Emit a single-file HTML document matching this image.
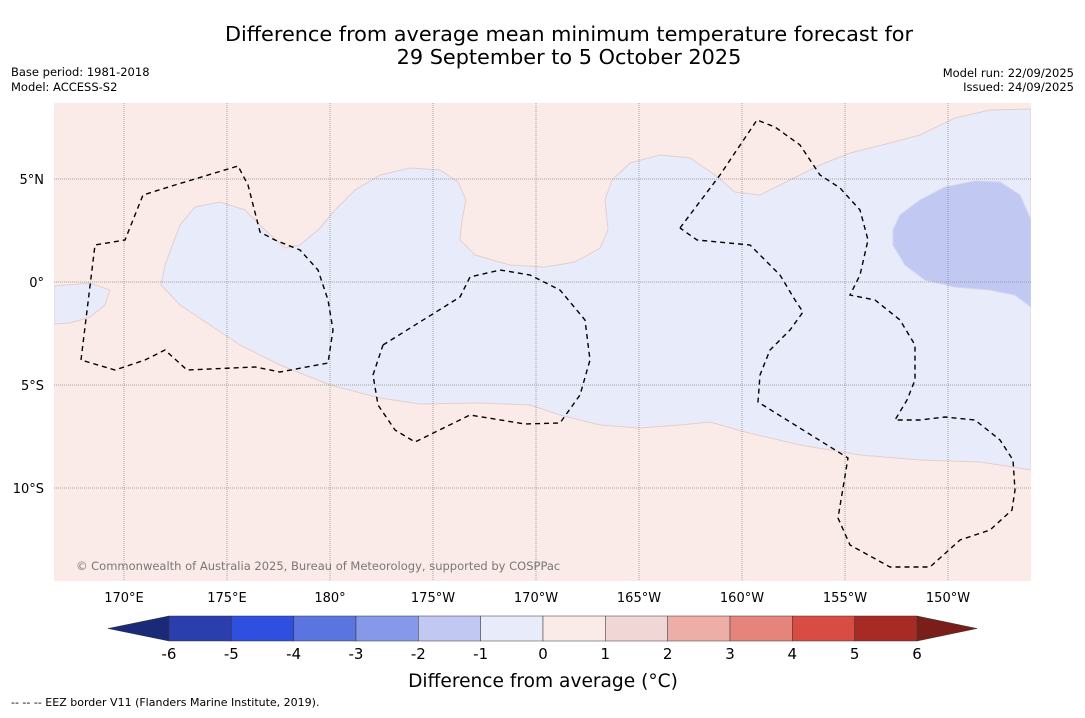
<!DOCTYPE html>
<html><head><meta charset="utf-8"><style>
body{margin:0;background:#fff;width:1085px;height:713px;overflow:hidden;font-family:"Liberation Sans","DejaVu Sans",sans-serif}
svg text{font-family:"DejaVu Sans","Liberation Sans",sans-serif}
</style></head><body>
<svg id="chart" width="1085" height="713" xmlns="http://www.w3.org/2000/svg">
<text x="569" y="41" text-anchor="middle" font-size="20.8">Difference from average mean minimum temperature forecast for</text>
<text x="569" y="64" text-anchor="middle" font-size="20.8">29 September to 5 October 2025</text>
<text x="11" y="76" font-size="11.5">Base period: 1981-2018</text>
<text x="11" y="91" font-size="11.5">Model: ACCESS-S2</text>
<text x="1074" y="77" font-size="11.5" text-anchor="end">Model run: 22/09/2025</text>
<text x="1074" y="91" font-size="11.5" text-anchor="end">Issued: 24/09/2025</text>
<defs><clipPath id="mapclip"><rect x="54" y="103" width="977" height="478"/></clipPath></defs>
<rect x="54" y="103" width="977" height="478" fill="#fbebe8"/>
<g id="map" clip-path="url(#mapclip)"></g>
<g id="axes"></g>
<g id="cbar"></g>
<text x="543" y="687" text-anchor="middle" font-size="18.6">Difference from average (°C)</text>
<text x="11" y="706" font-size="11">--  --  -- EEZ border V11 (Flanders Marine Institute, 2019).</text>
</svg>
<script>
const lonTicks=["170°E","175°E","180°","175°W","170°W","165°W","160°W","155°W","150°W"];
const lonValues=[170,175,180,185,190,195,200,205,210];
const latTicks=["5°N","0°","5°S","10°S"];
const latValues=[5,0,-5,-10];
const cbLevels=[-6,-5,-4,-3,-2,-1,0,1,2,3,4,5,6];
const cbColors=["#2a3eae","#2e4fdf","#5a74e0","#8598ea","#c1c8f2","#e8ebfa","#fbebe8","#f0d6d4","#eeaea8","#e6837b","#d94c43","#a82a24"];
const cbUnder="#1b2a78", cbOver="#7a1e1a";
// contour outlines (pixel space of map panel)
const lightBlueArea=[[161,285],[165,265],[180,225],[195,207],[220,202],[245,210],[265,230],[285,248],[300,245],[320,228],[335,210],[355,190],[380,175],[410,168],[440,170],[458,182],[466,200],[462,220],[460,240],[475,255],[510,265],[545,267],[575,262],[600,248],[608,230],[605,200],[612,180],[630,163],[660,155],[690,158],[715,175],[735,192],[760,195],[790,180],[820,165],[850,153],[890,143],[920,135],[955,118],[990,110],[1031,109],[1031,470],[980,462],[920,460],[860,455],[800,445],[745,432],[710,422],[680,425],[640,428],[600,425],[560,415],[530,405],[480,403],[420,404],[380,398],[330,385],[280,365],[240,345],[210,325],[180,305]];
const lightBlueBlob=[[54,286],[90,283],[110,290],[105,305],[90,317],[70,323],[54,324]];
const darkBlueArea=[[893,230],[900,215],[920,200],[945,187],[975,181],[1000,182],[1020,195],[1031,220],[1031,307],[1015,295],[990,290],[955,287],[925,280],[905,265],[893,245]];
const eezLines=[
[[81,360],[95,245],[125,240],[143,195],[175,185],[238,166],[248,185],[260,232],[275,240],[300,250],[318,270],[328,300],[333,330],[328,363],[280,372],[255,367],[187,370],[165,350],[145,360],[115,370],[81,360]],
[[383,345],[460,297],[470,277],[500,270],[530,275],[560,290],[585,320],[590,360],[580,395],[560,423],[525,424],[470,415],[415,442],[395,430],[378,405],[373,375],[383,345]],
[[680,228],[720,175],[757,120],[775,127],[800,145],[820,175],[840,188],[860,210],[868,240],[860,275],[850,295],[875,300],[900,320],[915,345],[915,380],[907,400],[895,420],[920,420],[945,417],[975,420],[1000,440],[1013,460],[1015,490],[1012,510],[990,530],[960,540],[930,567],[890,567],[850,545],[838,518],[848,458],[758,402],[760,375],[770,350],[790,330],[803,312],[795,300],[780,275],[750,245],[697,240],[680,228]]
];
const NS="http://www.w3.org/2000/svg";
const xLon=l=>124+(l-170)*20.6;
const yLat=l=>282-l*20.6;
const map=document.getElementById('map'),axes=document.getElementById('axes'),cb=document.getElementById('cbar');
function mk(t,a,p){const e=document.createElementNS(NS,t);for(const k in a)e.setAttribute(k,a[k]);p.appendChild(e);return e;}
const pts=a=>a.map(p=>p.join(',')).join(' ');
let e;
e=mk('polygon',{points:pts(lightBlueArea),fill:'#e8ebfa',stroke:'#e3cfcf','stroke-width':1},map);


e=mk('polygon',{points:pts(lightBlueBlob),fill:'#e8ebfa',stroke:'#e3cfcf','stroke-width':1},map);


e=mk('polygon',{points:pts(darkBlueArea),fill:'#c1c8f2',stroke:'#d0d4f2','stroke-width':1},map);


lonValues.forEach((v,i)=>{const x=xLon(v);
 e=mk('line',{x1:x,x2:x,y1:103,y2:581,stroke:'#888','stroke-width':0.7,'stroke-dasharray':'1,1'},map);
 
 
 e=mk('text',{x:x,y:602,'text-anchor':'middle','font-size':13},axes);e.textContent=lonTicks[i];
 
 
});
latValues.forEach((v,i)=>{const y=yLat(v);
 e=mk('line',{x1:54,x2:1031,y1:y,y2:y,stroke:'#888','stroke-width':0.7,'stroke-dasharray':'1,1'},map);
 
 
 e=mk('text',{x:44,y:y+5,'text-anchor':'end','font-size':13},axes);e.textContent=latTicks[i];
 
 
});
eezLines.forEach(l=>{
 e=mk('polyline',{points:pts(l),fill:'none',stroke:'#000','stroke-width':1.4,'stroke-dasharray':'5,4'},map);
 
 
});
e=mk('text',{x:76,y:570,'font-size':11.5,fill:'#777'},map);e.textContent='© Commonwealth of Australia 2025, Bureau of Meteorology, supported by COSPPac';


// colorbar
const cbX0=169,cbX1=917,cbY=616,cbH=25;
const cx=v=>cbX0+(v-cbLevels[0])/(cbLevels[cbLevels.length-1]-cbLevels[0])*(cbX1-cbX0);
e=mk('polygon',{points:`${cbX0},${cbY} 108,${cbY+cbH/2} ${cbX0},${cbY+cbH}`,fill:cbUnder,stroke:'#333','stroke-width':0.5},cb);


e=mk('polygon',{points:`${cbX1},${cbY} 977,${cbY+cbH/2} ${cbX1},${cbY+cbH}`,fill:cbOver,stroke:'#333','stroke-width':0.5},cb);


cbColors.forEach((c,i)=>{
 e=mk('rect',{x:cx(cbLevels[i]),y:cbY,width:cx(cbLevels[i+1])-cx(cbLevels[i]),height:cbH,fill:c,stroke:'#333','stroke-width':0.5},cb);
 
 
});
cbLevels.forEach(v=>{
 e=mk('text',{x:cx(v),y:659,'text-anchor':'middle','font-size':15},cb);e.textContent=String(v);
 
 
});
</script>
</body></html>
